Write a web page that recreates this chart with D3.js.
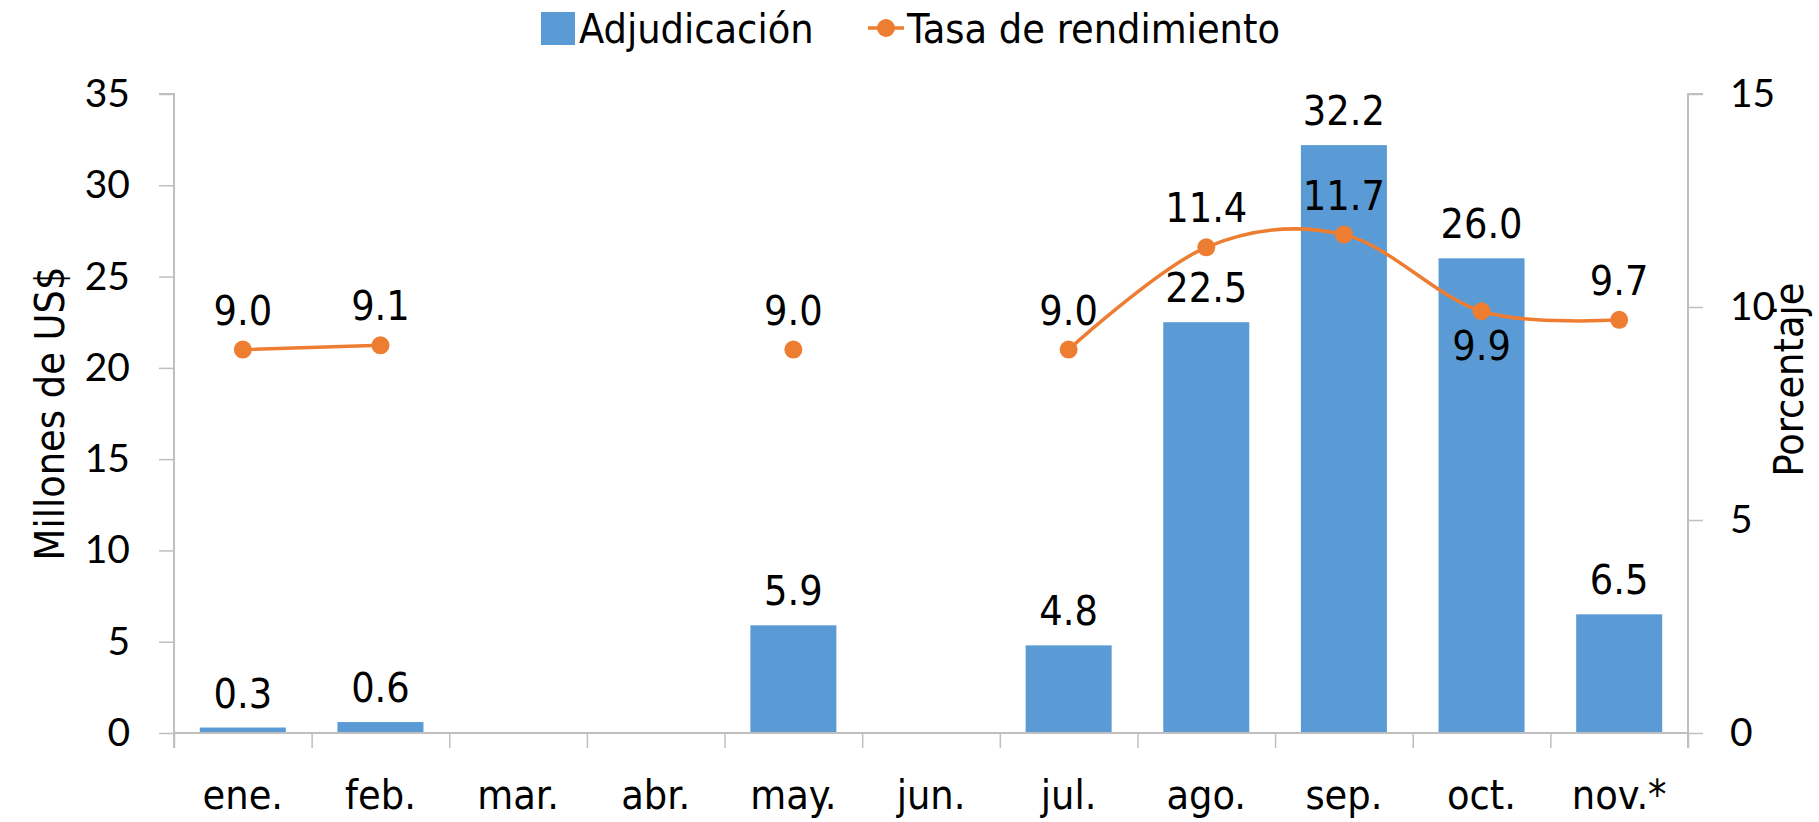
<!DOCTYPE html>
<html>
<head>
<meta charset="utf-8">
<script src="https://cdnjs.cloudflare.com/ajax/libs/d3/7.8.5/d3.min.js"></script>
<style>
  body { margin: 0; background: #fff; }
  text { font-family: "DejaVu Sans Condensed", "DejaVu Sans", sans-serif; font-stretch: condensed; fill: #000; }
  .tick text { font-family: Lato, sans-serif; font-stretch: normal; }
</style>
</head>
<body>
<svg class="chart"></svg>
<script>
// Data
var months = ["ene.", "feb.", "mar.", "abr.", "may.", "jun.", "jul.", "ago.", "sep.", "oct.", "nov.*"];
var adjudicacion = [0.3, 0.6, null, null, 5.9, null, 4.8, 22.5, 32.2, 26.0, 6.5];
var tasa = [9.0, 9.1, null, null, 9.0, null, 9.0, 11.4, 11.7, 9.9, 9.7];
var leftTicks = [0, 5, 10, 15, 20, 25, 30, 35];
var rightTicks = [0, 5, 10, 15];
// which rate labels sit below the point
var labelBelow = ["oct."];

var w = 1819,
    h = 822;

var svg = d3.select(".chart")
    .attr("width", w)
    .attr("height", h);

var margin = { top: 94, right: 131, bottom: 89, left: 174 },
    width = w - margin.left - margin.right,
    height = h - margin.top - margin.bottom,
    g = svg.append("g").attr("transform", "translate(" + margin.left + "," + margin.top + ")");

var data = months.map(function(m, i) {
    return { month: m, adj: adjudicacion[i], tasa: tasa[i] };
});

var xScale = d3.scaleBand()
    .domain(months)
    .range([0, width])
    .paddingInner(0.375)
    .paddingOuter(0.1875);

var yLeft = d3.scaleLinear().domain([0, 35]).range([height, 0]);
var yRight = d3.scaleLinear().domain([0, 15]).range([height, 0]);

var axisColor = "#bfbfbf";
var labelSize = "41px";

// Bars
g.selectAll(".bar")
    .data(data.filter(function(d) { return d.adj != null; }))
    .enter().append("rect")
    .attr("class", "bar")
    .attr("x", function(d) { return xScale(d.month); })
    .attr("width", xScale.bandwidth())
    .attr("y", function(d) { return yLeft(d.adj); })
    .attr("height", function(d) { return height - yLeft(d.adj); })
    .attr("fill", "#5b9bd5");

// Axes
var xAxis = d3.axisBottom(d3.scalePoint().domain(d3.range(12)).range([0, width]))
    .tickSize(15)
    .tickFormat("");

var gx = g.append("g")
    .attr("transform", "translate(0," + height + ")")
    .call(xAxis);

var gyl = g.append("g")
    .call(d3.axisLeft(yLeft).tickValues(leftTicks).tickSize(15).tickPadding(29));

var gyr = g.append("g")
    .attr("transform", "translate(" + width + ",0)")
    .call(d3.axisRight(yRight).tickValues(rightTicks).tickSize(15).tickPadding(27));

[gx, gyl, gyr].forEach(function(a) {
    a.select(".domain").attr("stroke", axisColor).attr("stroke-width", 2);
    a.selectAll(".tick line").attr("stroke", axisColor).attr("stroke-width", 1.5);
    a.selectAll(".tick text").attr("font-size", "39px");
});
// extend domains (outer ticks down)
gyl.select(".domain").attr("d", "M-15,0H0V" + (height + 15));
gyr.select(".domain").attr("d", "M15,0H0V" + (height + 15));
gx.select(".domain").attr("d", "M0,0H" + width);

// Month labels
g.append("g").selectAll(".month")
    .data(months)
    .enter().append("text")
    .attr("class", "month")
    .attr("x", function(d) { return xScale(d) + xScale.bandwidth() / 2; })
    .attr("y", height + 76)
    .attr("text-anchor", "middle")
    .attr("font-size", labelSize)
    .text(function(d) { return d; });

// Line (smoothed, broken at gaps)
var line = d3.line()
    .defined(function(d) { return d.tasa != null; })
    .x(function(d) { return xScale(d.month) + xScale.bandwidth() / 2; })
    .y(function(d) { return yRight(d.tasa); })
    .curve(d3.curveCatmullRom.alpha(0));

g.append("path")
    .datum(data)
    .attr("fill", "none")
    .attr("stroke", "#ed7d31")
    .attr("stroke-width", 3.5)
    .attr("stroke-linejoin", "round")
    .attr("stroke-linecap", "round")
    .attr("d", line);

var pts = data.filter(function(d) { return d.tasa != null; });

g.selectAll(".dot")
    .data(pts)
    .enter().append("circle")
    .attr("class", "dot")
    .attr("cx", function(d) { return xScale(d.month) + xScale.bandwidth() / 2; })
    .attr("cy", function(d) { return yRight(d.tasa); })
    .attr("r", 9)
    .attr("fill", "#ed7d31");

// Bar labels
g.selectAll(".barlabel")
    .data(data.filter(function(d) { return d.adj != null; }))
    .enter().append("text")
    .attr("class", "barlabel")
    .attr("x", function(d) { return xScale(d.month) + xScale.bandwidth() / 2; })
    .attr("y", function(d) { return yLeft(d.adj) - 20; })
    .attr("text-anchor", "middle")
    .attr("font-size", labelSize)
    .text(function(d) { return d.adj.toFixed(1); });

// Rate labels
g.selectAll(".ratelabel")
    .data(pts)
    .enter().append("text")
    .attr("class", "ratelabel")
    .attr("x", function(d) { return xScale(d.month) + xScale.bandwidth() / 2; })
    .attr("y", function(d) {
        return labelBelow.indexOf(d.month) >= 0 ? yRight(d.tasa) + 49 : yRight(d.tasa) - 25;
    })
    .attr("text-anchor", "middle")
    .attr("font-size", labelSize)
    .text(function(d) { return d.tasa.toFixed(1); });

// Axis titles
svg.append("text")
    .attr("transform", "translate(64," + (margin.top + height / 2) + ") rotate(-90)")
    .attr("text-anchor", "middle")
    .attr("font-size", "41px")
    .text("Millones de US$");

svg.append("text")
    .attr("transform", "translate(1803," + (margin.top + height / 2 - 34) + ") rotate(-90)")
    .attr("text-anchor", "middle")
    .attr("font-size", "41px")
    .text("Porcentaje");

// Legend
var legend = svg.append("g").attr("transform", "translate(0,28)");
legend.append("rect")
    .attr("x", 541).attr("y", -16)
    .attr("width", 34).attr("height", 33)
    .attr("fill", "#5b9bd5");
legend.append("text")
    .attr("x", 579).attr("y", 15)
    .attr("font-size", labelSize)
    .text("Adjudicación");
legend.append("line")
    .attr("x1", 868).attr("x2", 904)
    .attr("y1", 0).attr("y2", 0)
    .attr("stroke", "#ed7d31").attr("stroke-width", 3.5);
legend.append("circle")
    .attr("cx", 886).attr("cy", 0).attr("r", 9)
    .attr("fill", "#ed7d31");
legend.append("text")
    .attr("x", 907).attr("y", 15)
    .attr("font-size", labelSize)
    .text("Tasa de rendimiento");
</script>
</body>
</html>
